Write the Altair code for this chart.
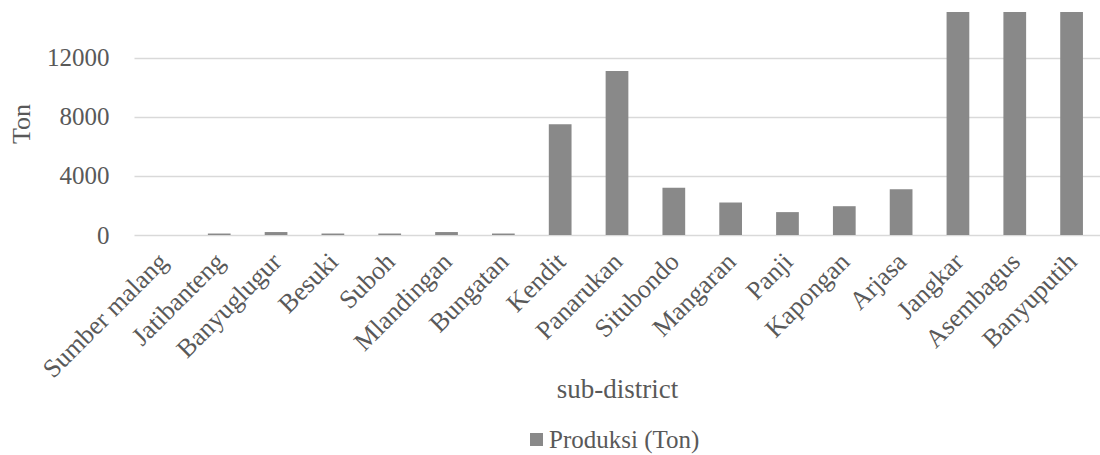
import altair as alt
import pandas as pd

districts = ["Sumber malang", "Jatibanteng", "Banyuglugur", "Besuki", "Suboh",
             "Mlandingan", "Bungatan", "Kendit", "Panarukan", "Situbondo",
             "Mangaran", "Panji", "Kapongan", "Arjasa", "Jangkar",
             "Asembagus", "Banyuputih"]
production = [0, 100, 200, 100, 100, 200, 100, 7500, 11100, 3200,
              2200, 1550, 1950, 3100, 15100, 15100, 15100]
series_name = "Produksi (Ton)"
y_ticks = [0, 4000, 8000, 12000]

df = pd.DataFrame({"district": districts, "value": production, "series": series_name})

FONT = "Liberation Serif"
TXT = "#595959"

chart = alt.Chart(df).mark_bar(color="#898989", clip=True).encode(
    x=alt.X("district:N", sort=districts, title="sub-district",
            scale=alt.Scale(paddingInner=0.6, paddingOuter=0.3),
            axis=alt.Axis(labelAngle=-45, labelFontSize=26, labelFont=FONT,
                          labelColor=TXT, ticks=False, domain=False,
                          labelPadding=13, labelOffset=-8,
                          titleFont=FONT, titleFontSize=27,
                          titleColor=TXT, titleFontWeight="normal",
                          titleY=141, labelOverlap=False, labelBound=False)),
    y=alt.Y("value:Q", title="Ton",
            scale=alt.Scale(domain=[0, 15100], nice=False),
            axis=alt.Axis(values=y_ticks, format="d", labelFontSize=25, labelFont=FONT,
                          labelColor=TXT, ticks=False, domain=False,
                          labelPadding=25, gridColor="#d9d9d9", gridWidth=1.5,
                          titleFont=FONT, titleFontSize=26, titleColor=TXT,
                          titleFontWeight="normal", titleX=-113,
                          titleBaseline="middle")),
    color=alt.Color("series:N", title=None,
                    scale=alt.Scale(range=["#898989"]),
                    legend=alt.Legend(orient="none", legendX=390, legendY=415,
                                      symbolType="square", symbolSize=170,
                                      symbolStrokeWidth=0, labelOffset=0,
                                      labelFont=FONT, labelFontSize=25,
                                      labelColor=TXT, direction="horizontal")),
).properties(
    width=966, height=223,
    autosize=alt.AutoSizeParams(type="none"),
    padding={"left": 134, "top": 12, "right": 0, "bottom": 220},
).configure(background="white").configure_view(stroke=None)

chart.save("out.html", embed_options={"renderer": "svg", "actions": False})
